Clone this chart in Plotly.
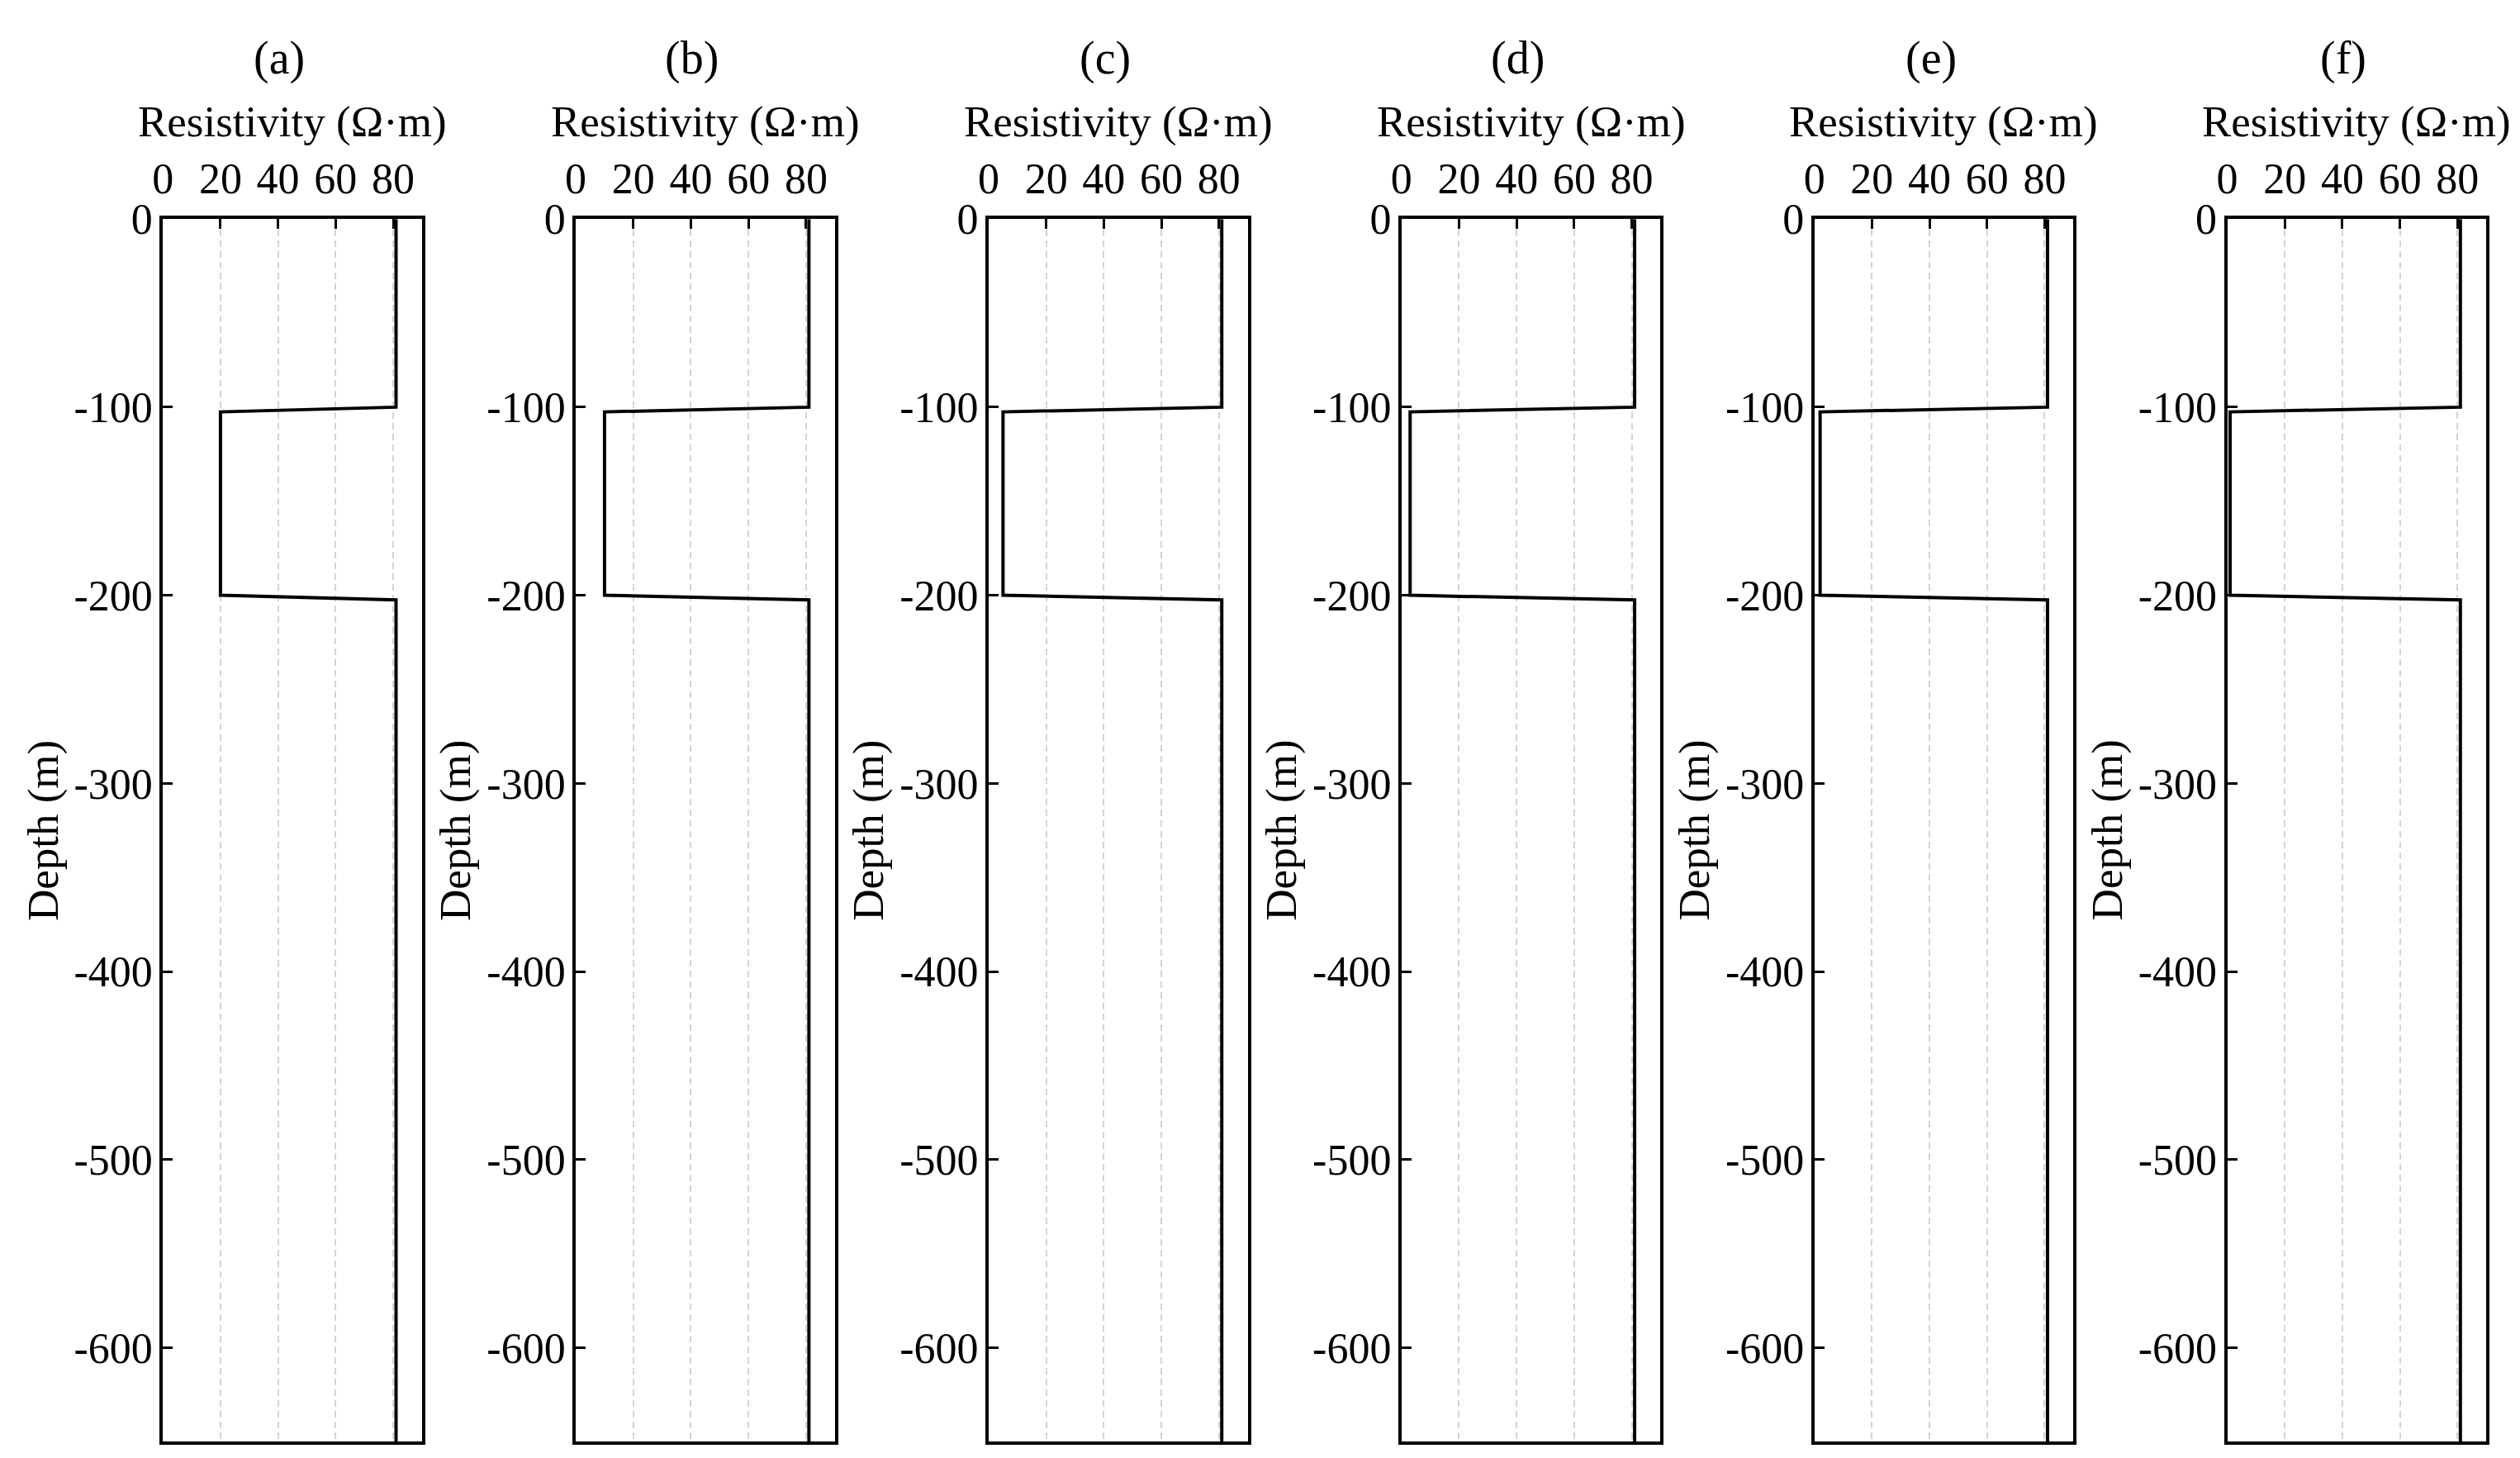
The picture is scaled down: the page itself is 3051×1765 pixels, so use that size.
import plotly.graph_objects as go

# ---------------- data ----------------
panel_labels = ["(a)", "(b)", "(c)", "(d)", "(e)", "(f)"]
host_resistivity = 81          # Ω·m, background layers
layer_resistivity = [20, 10, 5, 3, 2, 1]   # Ω·m, conductive layer in each panel
profile_depths = [0, -100, -102.5, -200, -202.5, -650]   # m, staircase vertices
x_tick_vals = [0, 20, 40, 60, 80]
y_tick_vals = [0, -100, -200, -300, -400, -500, -600]
y_tick_text = ["0", "-100", "-200", "-300", "-400", "-500", "-600"]
x_title = "Resistivity (Ω·m)"
y_title = "Depth (m)"

# ---------------- layout geometry (pixels) ----------------
W, H = 3051, 1765
panel_left_px = [185, 687, 1189, 1691, 2193, 2695]
panel_w_px = 315
top_px, bottom_px = 241, 1745

FONT = "Liberation Serif, Times New Roman, serif"

def px_x(p):
    return p / W

def px_y(p):
    return 1 - p / H

fig = go.Figure()

for i, lab in enumerate(panel_labels):
    n = i + 1
    xa = "x" if n == 1 else f"x{n}"
    ya = "y" if n == 1 else f"y{n}"
    hi = host_resistivity
    lo = layer_resistivity[i]
    xs = [hi, hi, lo, lo, hi, hi]
    fig.add_trace(go.Scatter(
        x=xs, y=profile_depths, mode="lines",
        line=dict(color="black", width=4),
        xaxis=xa, yaxis=ya, showlegend=False, cliponaxis=True,
    ))

    l = panel_left_px[i]
    r = l + panel_w_px
    xkey = "xaxis" if n == 1 else f"xaxis{n}"
    ykey = "yaxis" if n == 1 else f"yaxis{n}"
    fig.update_layout({
        xkey: dict(
            domain=[px_x(l), px_x(r)], anchor=ya, side="top",
            range=[0, 90], tickvals=x_tick_vals,
            ticks="inside", ticklen=12, tickwidth=3, tickcolor="black",
            showline=True, linecolor="black", linewidth=4, mirror=True,
            showgrid=True, gridcolor="#d4d4d4", gridwidth=2, griddash="8px,5px",
            zeroline=False, ticklabelstandoff=6,
            tickfont=dict(family=FONT, size=52, color="black"),
        ),
        ykey: dict(
            domain=[px_y(bottom_px), px_y(top_px)], anchor=xa,
            range=[-650, 0], tickvals=y_tick_vals, ticktext=y_tick_text,
            ticks="inside", ticklen=12, tickwidth=3, tickcolor="black",
            showline=True, linecolor="black", linewidth=4, mirror=True,
            showgrid=False, zeroline=False, ticklabelstandoff=-2,
            tickfont=dict(family=FONT, size=52, color="black"),
        ),
    })

    cx = (l + r) / 2
    fig.add_annotation(text=lab, xref="paper", yref="paper",
                       x=px_x(cx - 16), y=px_y(43), showarrow=False,
                       xanchor="center", yanchor="middle",
                       font=dict(family=FONT, size=56, color="black"))
    fig.add_annotation(text=x_title, xref="paper", yref="paper",
                       x=px_x(cx), y=px_y(121), showarrow=False,
                       xanchor="center", yanchor="middle",
                       font=dict(family=FONT, size=53, color="black"))
    fig.add_annotation(text=y_title, xref="paper", yref="paper",
                       x=px_x(l - 146), y=px_y((top_px + bottom_px) / 2),
                       showarrow=False, textangle=-90,
                       xanchor="center", yanchor="middle",
                       font=dict(family=FONT, size=53, color="black"))

fig.update_layout(
    width=W, height=H, autosize=False,
    margin=dict(l=0, r=0, t=0, b=0),
    paper_bgcolor="white", plot_bgcolor="white",
)

fig.write_html(
    "out.html",
    config={"displayModeBar": False},
    post_script="document.body.style.margin='0';document.body.style.overflow='hidden';",
)
